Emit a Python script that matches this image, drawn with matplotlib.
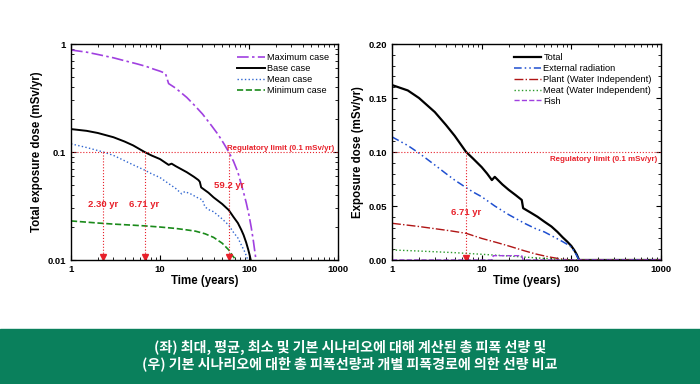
import numpy as np
import matplotlib.pyplot as plt
from matplotlib.ticker import FixedLocator, NullFormatter, LogLocator

plt.rcParams["font.family"] = ["Liberation Sans", "DejaVu Sans"]

# Left panel: total dose per scenario (log-log)
t_max = [1, 1.5, 2, 3, 4, 5.5, 7, 8.5, 10, 11.5, 12.5, 15, 20, 25, 30, 38, 45, 52, 59.2,
         67, 75, 82, 87, 93, 100, 106, 112, 117, 121]
d_max = [0.88, 0.84, 0.80, 0.745, 0.70, 0.655, 0.62, 0.585, 0.56, 0.535, 0.43, 0.39, 0.32, 0.265,
         0.225, 0.175, 0.145, 0.12, 0.10, 0.082, 0.065, 0.05, 0.042, 0.034, 0.026, 0.02, 0.015,
         0.0115, 0.0095]

t_base = [1, 1.5, 2, 3, 4, 5, 6.71, 8, 10, 12.5, 13.5, 15, 20, 24, 27, 28, 29, 35, 40, 50,
          59.2, 67, 75, 82, 87, 93, 98, 102, 106]
d_base = [0.163, 0.157, 0.150, 0.137, 0.125, 0.115, 0.100, 0.093, 0.086, 0.076, 0.078, 0.074,
          0.065, 0.059, 0.055, 0.053, 0.047, 0.042, 0.038, 0.033, 0.029, 0.025, 0.022, 0.019,
          0.017, 0.0145, 0.0125, 0.011, 0.0095]

t_mean = [1, 1.5, 2.3, 3, 4, 5, 6.71, 8, 10, 12.5, 15, 17.5, 19, 22, 26, 30, 32, 36, 40, 50,
          59.2, 67, 75, 83, 90, 95, 99]
d_mean = [0.119, 0.11, 0.100, 0.093, 0.083, 0.076, 0.068, 0.063, 0.058, 0.051, 0.046, 0.041,
          0.043, 0.041, 0.038, 0.036, 0.031, 0.029, 0.028, 0.024, 0.021, 0.018, 0.016, 0.0135,
          0.0118, 0.0105, 0.0095]

t_min = [1, 2, 3, 5, 6.71, 10, 15, 20, 25, 32, 40, 50, 59.2, 65, 70, 73]
d_min = [0.023, 0.022, 0.0215, 0.021, 0.0207, 0.0202, 0.0196, 0.019, 0.0185, 0.0175, 0.0162,
         0.0143, 0.0124, 0.011, 0.0102, 0.0095]

# Right panel: base case by pathway
t_tot = [1, 1.5, 2, 3, 4, 5, 6.71, 8, 10, 11.5, 13, 14, 17, 20, 24, 28, 29, 35, 42, 50, 60,
         70, 80, 90, 100, 108, 115, 122, 1000]
d_tot = [0.162, 0.157, 0.150, 0.137, 0.125, 0.115, 0.100, 0.094, 0.086, 0.080, 0.074, 0.077,
         0.070, 0.065, 0.060, 0.0556, 0.048, 0.044, 0.040, 0.0355, 0.031, 0.026, 0.021, 0.017,
         0.013, 0.009, 0.005, 0.0, 0.0]

t_ext = [1, 1.5, 2, 3, 4, 5, 6.71, 8, 10, 14, 20, 30, 40, 50, 65, 80, 90, 100, 108, 115, 122, 1000]
d_ext = [0.114, 0.106, 0.099, 0.088, 0.080, 0.074, 0.067, 0.063, 0.0586, 0.050, 0.042, 0.034,
         0.029, 0.026, 0.021, 0.017, 0.0145, 0.012, 0.008, 0.004, 0.0, 0.0]

t_plant = [1, 2, 3, 4.5, 6.71, 10, 15, 20, 30, 40, 55, 70, 85, 100, 1000]
d_plant = [0.034, 0.031, 0.029, 0.027, 0.0247, 0.020, 0.016, 0.013, 0.0085, 0.0056, 0.003,
           0.0015, 0.0005, 0.0, 0.0]

t_meat = [1, 2, 5, 10, 20, 40, 60, 80, 120, 1000]
d_meat = [0.0093, 0.0083, 0.0068, 0.0053, 0.0037, 0.002, 0.001, 0.0003, 0.0, 0.0]

t_fish = [1, 13, 13.5, 28, 29, 1000]
d_fish = [0.0, 0.0, 0.004, 0.004, 0.0, 0.0]

cross_left = [2.30, 6.71, 59.2]
cross_labels = ["2.30 yr", "6.71 yr", "59.2 yr"]
cross_label_y = [0.033, 0.033, 0.049]

RED = "#e8202a"
PURPLE = "#a040e0"

fig = plt.figure(figsize=(7.0, 3.84), dpi=100)
ax1 = fig.add_axes([71 / 700, 1 - 260 / 384, 267 / 700, 216 / 384])
ax2 = fig.add_axes([392 / 700, 1 - 260 / 384, 269 / 700, 216 / 384])


def style_axis(ax):
    for s in ax.spines.values():
        s.set_linewidth(1.0)
    ax.tick_params(which="both", direction="in", top=True, right=True, labelsize=6.8)
    ax.tick_params(which="major", length=3.5, width=0.8)
    ax.tick_params(which="minor", length=2, width=0.6)
    for lab in ax.get_xticklabels() + ax.get_yticklabels():
        lab.set_fontweight("bold")


leg_kw = dict(loc="upper right", frameon=False, fontsize=6.7, handlelength=3.0,
              handletextpad=0.2, labelspacing=0.2, borderaxespad=0.6)

# ---- left ----
ax1.plot(t_max, d_max, color=PURPLE, lw=1.2, ls=(0, (7, 2, 1.5, 2)), label="Maximum case")
ax1.plot(t_base, d_base, color="black", lw=1.4, label="Base case")
ax1.plot(t_mean, d_mean, color="#3066d0", lw=1.0, ls=":", label="Mean case")
ax1.plot(t_min, d_min, color="#1a8a1a", lw=1.2, ls="--", label="Minimum case")
ax1.set_xscale("log")
ax1.set_yscale("log")
ax1.set_xlim(1, 1000)
ax1.set_ylim(0.01, 1)
ax1.axhline(0.1, color=RED, lw=0.8, ls=":")
for x, lab, ly in zip(cross_left, cross_labels, cross_label_y):
    ax1.plot([x, x], [0.1, 0.0107], color=RED, lw=0.8, ls=":")
    ax1.plot([x], [0.0107], marker="v", color=RED, ms=4, clip_on=False)
    ax1.text(x, ly, lab, color=RED, fontsize=6.8, fontweight="bold", ha="center", va="center")
ax1.text(0.985, 0.1, "Regulatory limit (0.1 mSv/yr)", transform=ax1.get_yaxis_transform(),
         color=RED, fontsize=5.7, fontweight="bold", ha="right", va="bottom")
ax1.xaxis.set_major_locator(FixedLocator([1, 10, 100, 1000]))
ax1.set_xticklabels(["1", "10", "100", "1000"])
ax1.yaxis.set_major_locator(FixedLocator([0.01, 0.1, 1]))
ax1.set_yticklabels(["0.01", "0.1", "1"])
ax1.xaxis.set_minor_locator(LogLocator(base=10, subs=np.arange(2, 10)))
ax1.yaxis.set_minor_locator(LogLocator(base=10, subs=np.arange(2, 10)))
ax1.xaxis.set_minor_formatter(NullFormatter())
ax1.yaxis.set_minor_formatter(NullFormatter())
ax1.set_xlabel("Time (years)", fontsize=8.3, fontweight="bold", labelpad=1)
ax1.set_ylabel("Total exposure dose (mSv/yr)", fontsize=8.3, fontweight="bold", labelpad=3)
ax1.legend(**leg_kw)
style_axis(ax1)

# ---- right ----
ax2.plot(t_tot, d_tot, color="black", lw=1.6, label="Total")
ax2.plot(t_ext, d_ext, color="#1f4fd0", lw=1.1, ls=(0, (5, 2, 1, 2, 1, 2)), label="External radiation")
ax2.plot(t_plant, d_plant, color="#b01515", lw=1.0, ls="-.", label="Plant (Water Independent)")
ax2.plot(t_meat, d_meat, color="#2a9a2a", lw=1.0, ls=":", label="Meat (Water Independent)")
ax2.plot(t_fish, d_fish, color=PURPLE, lw=1.0, ls="--", label="Fish")
ax2.set_xscale("log")
ax2.set_xlim(1, 1000)
ax2.set_ylim(0, 0.20)
ax2.axhline(0.1, color=RED, lw=0.8, ls=":")
ax2.plot([6.71, 6.71], [0.1, 0.002], color=RED, lw=0.8, ls=":")
ax2.plot([6.71], [0.002], marker="v", color=RED, ms=4)
ax2.text(6.71, 0.044, "6.71 yr", color=RED, fontsize=6.8, fontweight="bold", ha="center", va="center")
ax2.text(0.985, 0.096, "Regulatory limit (0.1 mSv/yr)", transform=ax2.get_yaxis_transform(),
         color=RED, fontsize=5.7, fontweight="bold", ha="right", va="top")
ax2.xaxis.set_major_locator(FixedLocator([1, 10, 100, 1000]))
ax2.set_xticklabels(["1", "10", "100", "1000"])
ax2.xaxis.set_minor_locator(LogLocator(base=10, subs=np.arange(2, 10)))
ax2.xaxis.set_minor_formatter(NullFormatter())
ax2.yaxis.set_major_locator(FixedLocator([0, 0.05, 0.10, 0.15, 0.20]))
ax2.set_yticklabels(["0.00", "0.05", "0.10", "0.15", "0.20"])
ax2.yaxis.set_minor_locator(FixedLocator(np.arange(0, 0.201, 0.01)))
ax2.set_xlabel("Time (years)", fontsize=8.3, fontweight="bold", labelpad=1)
ax2.set_ylabel("Exposure dose (mSv/yr)", fontsize=8.3, fontweight="bold", labelpad=3)
ax2.legend(**leg_kw)
style_axis(ax2)

# caption banner
fig.patches.append(plt.Rectangle((0, 0), 1, 55 / 384, transform=fig.transFigure,
                                 color="#0a805c", zorder=0))
caption = ["(좌) 최대, 평균, 최소 및 기본 시나리오에 대해 계산된 총 피폭 선량 및",
           "(우) 기본 시나리오에 대한 총 피폭선량과 개별 피폭경로에 의한 선량 비교"]
for i, line in enumerate(caption):
    fig.text(0.5, 1 - (347 + 16.5 * i) / 384, line, color="white", fontsize=10.1, fontweight="bold",
             ha="center", va="center", family=["Noto Sans CJK KR", "DejaVu Sans"])

fig.savefig("out.png", dpi=100)
